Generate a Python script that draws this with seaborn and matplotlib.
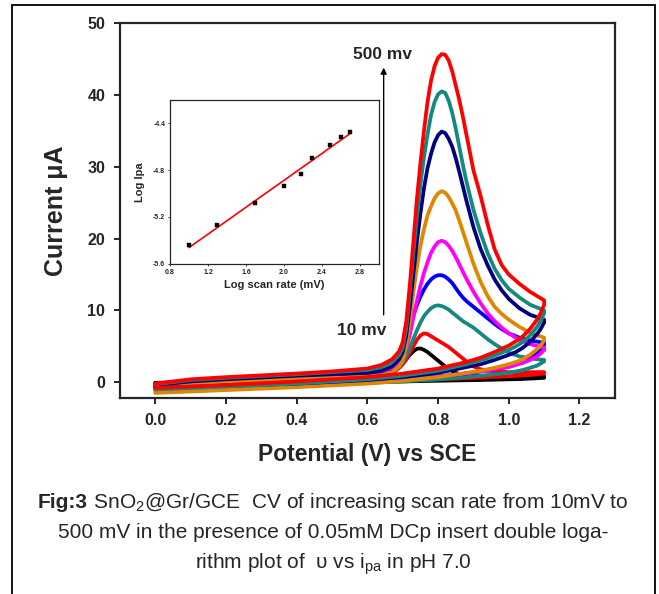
import pandas as pd
import matplotlib
matplotlib.use("Agg")
import matplotlib.pyplot as plt
from matplotlib.patches import Rectangle
import seaborn as sns

# potentiel balayé (V vs SCE) : aller puis retour
E_fwd = [0.0, 0.1, 0.2, 0.3, 0.4, 0.5, 0.6, 0.64, 0.67, 0.69,
         0.70, 0.71, 0.72, 0.73, 0.74, 0.75, 0.76, 0.77, 0.78, 0.79,
         0.80, 0.81, 0.82, 0.83, 0.84, 0.85, 0.86, 0.87, 0.88, 0.90,
         0.92, 0.94, 0.96, 0.98, 1.0, 1.03, 1.06, 1.1]
E_rev = [1.1, 1.09, 1.08, 1.06, 1.04, 1.02, 1.0, 0.96, 0.92, 0.88,
         0.8, 0.7, 0.6, 0.4, 0.2, 0.0]

# courant (µA), balayage aller
i_fwd_10 = [-0.1, 0.05, 0.2, 0.3, 0.4, 0.5, 0.6, 0.8, 1.3, 2.1,
            2.6, 3.2, 3.8, 4.3, 4.65, 4.7, 4.5, 4.2, 3.8, 3.4,
            3.0, 2.6, 2.2, 1.85, 1.55, 1.3, 1.15, 1.05, 1.0, 0.9,
            0.85, 0.8, 0.8, 0.8, 0.8, 0.8, 0.8, 0.8]
i_fwd_20 = [-0.2, 0.0, 0.2, 0.35, 0.5, 0.6, 0.7, 0.9, 1.3, 2.0,
            2.5, 3.2, 4.1, 5.0, 5.9, 6.5, 6.8, 6.7, 6.4, 6.1,
            5.8, 5.5, 5.2, 4.9, 4.5, 4.1, 3.7, 3.3, 2.9, 2.2,
            1.8, 1.6, 1.5, 1.45, 1.4, 1.4, 1.4, 1.4]
i_fwd_50 = [-0.5, -0.1, 0.2, 0.4, 0.6, 0.75, 0.9, 1.1, 1.5, 2.2,
            2.8, 3.7, 4.8, 6.0, 7.2, 8.3, 9.2, 9.8, 10.3, 10.6,
            10.7, 10.6, 10.4, 10.1, 9.7, 9.3, 8.9, 8.5, 8.2, 7.6,
            6.8, 6.0, 5.3, 4.7, 4.1, 3.6, 3.3, 3.1]
i_fwd_100 = [-0.4, 0.0, 0.3, 0.55, 0.8, 0.95, 1.1, 1.3, 1.8, 3.0,
             4.2, 5.8, 7.6, 9.3, 10.7, 11.9, 12.9, 13.7, 14.3, 14.7,
             14.9, 14.9, 14.7, 14.3, 13.8, 13.1, 12.4, 11.8, 11.3, 10.5,
             9.7, 8.9, 8.1, 7.4, 6.8, 6.2, 5.8, 5.5]
i_fwd_150 = [-0.3, 0.2, 0.5, 0.75, 1.0, 1.2, 1.4, 1.6, 2.0, 2.7,
             3.3, 4.6, 6.6, 9.0, 11.3, 13.4, 15.2, 16.7, 18.0, 18.9,
             19.5, 19.7, 19.5, 19.0, 18.3, 17.4, 16.4, 15.4, 14.4, 12.6,
             11.0, 9.6, 8.5, 7.6, 6.8, 5.9, 5.3, 4.8]
i_fwd_200 = [-0.6, -0.2, 0.1, 0.3, 0.5, 0.65, 0.8, 1.0, 1.4, 2.2,
             3.0, 5.0, 8.5, 12.5, 16.0, 19.0, 21.3, 23.2, 24.5, 25.6,
             26.3, 26.6, 26.4, 25.8, 24.9, 23.9, 22.5, 21.0, 19.5, 16.5,
             14.0, 12.0, 10.5, 9.5, 8.7, 7.7, 6.9, 6.2]
i_fwd_300 = [-0.4, 0.1, 0.4, 0.65, 0.9, 1.1, 1.3, 1.6, 2.2, 3.2,
             4.2, 6.5, 10.5, 15.0, 19.5, 23.5, 27.0, 29.8, 31.8, 33.4,
             34.4, 34.9, 34.7, 33.9, 32.8, 31.2, 29.3, 27.3, 25.3, 21.6,
             18.6, 16.3, 14.3, 12.8, 11.6, 10.3, 9.4, 8.7]
i_fwd_400 = [-0.3, 0.3, 0.6, 0.85, 1.1, 1.4, 1.7, 2.1, 2.8, 3.8,
             4.8, 7.5, 12.5, 18.0, 23.0, 27.5, 31.3, 34.5, 37.2, 39.0,
             40.1, 40.5, 40.3, 39.2, 37.5, 35.3, 32.8, 30.3, 28.0, 24.0,
             20.8, 18.0, 15.8, 14.2, 13.0, 11.8, 10.8, 10.0]
i_fwd_500 = [-0.2, 0.4, 0.7, 0.95, 1.2, 1.5, 1.9, 2.4, 3.2, 4.3,
             5.6, 8.5, 13.5, 19.5, 25.5, 30.5, 35.0, 39.0, 42.0, 44.0,
             45.2, 45.7, 45.6, 44.8, 43.3, 41.3, 39.3, 37.0, 34.5, 29.5,
             26.0, 22.0, 18.5, 16.3, 15.0, 13.7, 12.6, 11.4]

# balayage retour
i_rev_10 = [0.6, 0.58, 0.55, 0.5, 0.45, 0.42, 0.4, 0.35, 0.3, 0.27, 0.2, 0.1, 0.0, -0.2, -0.3, -0.3]
i_rev_20 = [1.2, 1.15, 1.1, 1.0, 0.95, 0.9, 0.8, 0.75, 0.65, 0.55, 0.4, 0.2, 0.0, -0.3, -0.5, -0.5]
i_rev_50 = [2.9, 2.6, 2.3, 2.0, 1.7, 1.5, 1.3, 1.1, 0.9, 0.7, 0.4, 0.1, -0.1, -0.5, -0.8, -1.1]
i_rev_100 = [5.2, 4.5, 4.0, 3.3, 2.8, 2.5, 2.2, 1.8, 1.5, 1.2, 0.8, 0.4, 0.2, -0.2, -0.5, -0.7]
i_rev_150 = [4.5, 4.0, 3.6, 3.1, 2.7, 2.4, 2.1, 1.8, 1.5, 1.2, 0.8, 0.4, 0.1, -0.3, -0.5, -0.6]
i_rev_200 = [5.8, 5.1, 4.6, 3.8, 3.2, 2.8, 2.5, 2.0, 1.6, 1.3, 0.7, 0.2, -0.2, -0.7, -1.1, -1.5]
i_rev_300 = [8.3, 7.4, 6.7, 5.6, 4.8, 4.2, 3.8, 3.1, 2.5, 2.1, 1.3, 0.7, 0.3, -0.2, -0.5, -0.8]
i_rev_400 = [9.6, 8.5, 7.7, 6.5, 5.6, 5.0, 4.5, 3.7, 3.0, 2.5, 1.6, 0.9, 0.4, -0.2, -0.6, -1.0]
i_rev_500 = [10.8, 9.6, 8.7, 7.4, 6.4, 5.7, 5.1, 4.2, 3.4, 2.8, 1.9, 1.2, 0.7, 0.1, -0.4, -0.8]

scan_rates = ["10", "20", "50", "100", "150", "200", "300", "400", "500"]
curve_colors = ["#000000", "#ff0000", "#128a80", "#0000ff", "#ff00ff",
                "#e08600", "#000080", "#128a80", "#ff0000"]

# encart : log(vitesse) vs log(Ipa)
log_scan = [1.0, 1.3, 1.7, 2.0, 2.18, 2.3, 2.48, 2.6, 2.7]
log_ipa = [-5.44, -5.27, -5.08, -4.94, -4.83, -4.70, -4.585, -4.52, -4.477]

fwd_all = [i_fwd_10, i_fwd_20, i_fwd_50, i_fwd_100, i_fwd_150,
           i_fwd_200, i_fwd_300, i_fwd_400, i_fwd_500]
rev_all = [i_rev_10, i_rev_20, i_rev_50, i_rev_100, i_rev_150,
           i_rev_200, i_rev_300, i_rev_400, i_rev_500]

rows = []
for rate, fwd, rev in zip(scan_rates, fwd_all, rev_all):
    assert len(fwd) == len(E_fwd) and len(rev) == len(E_rev), rate
    pts = list(zip(E_fwd, fwd)) + list(zip(E_rev, rev)) + [(E_fwd[0], fwd[0])]
    for k, (e, i) in enumerate(pts):
        rows.append({"rate": rate, "step": k, "E": e, "I": i})
df = pd.DataFrame(rows)

sns.set_style("ticks")
plt.rcParams["font.family"] = ["Liberation Sans", "DejaVu Sans"]
plt.rcParams["mathtext.fontset"] = "custom"
plt.rcParams["mathtext.rm"] = "Liberation Sans"
plt.rcParams["mathtext.bf"] = "Liberation Sans:bold"
plt.rcParams["mathtext.it"] = "Liberation Sans:italic"

fig = plt.figure(figsize=(6.59, 5.94), dpi=100)
ax = fig.add_axes([0.182, 0.330, 0.751, 0.631])

sns.lineplot(data=df, x="E", y="I", hue="rate", hue_order=scan_rates,
             palette=dict(zip(scan_rates, curve_colors)), sort=False,
             estimator=None, legend=False, lw=2.7, ax=ax,
             solid_joinstyle="round", solid_capstyle="round")

ax.set_xlim(-0.1, 1.3)
ax.set_ylim(-2.2, 50)
ax.set_xticks([0.0, 0.2, 0.4, 0.6, 0.8, 1.0, 1.2])
ax.set_xticklabels(["0.0", "0.2", "0.4", "0.6", "0.8", "1.0", "1.2"])
ax.set_yticks([0, 10, 20, 30, 40, 50])
for s in ax.spines.values():
    s.set_linewidth(1.6)
ax.tick_params(direction="out", length=4.5, width=1.4, labelsize=11.5, pad=6)
for lab in ax.get_xticklabels() + ax.get_yticklabels():
    lab.set_fontweight("bold")
ax.set_xlabel("Potential (V) vs SCE", fontsize=16.5, fontweight="bold", labelpad=11)
ax.set_ylabel("Current μA", fontsize=18, fontweight="bold", labelpad=14)

ax.annotate("", xy=(0.646, 44.2), xytext=(0.646, 9.0),
            arrowprops=dict(arrowstyle="-|>", color="black", lw=1.0, mutation_scale=9))
ax.text(0.643, 45.7, "500 mv", fontsize=12.5, fontweight="bold", ha="center", va="center")
ax.text(0.584, 7.2, "10 mv", fontsize=12.5, fontweight="bold", ha="center", va="center")

# encart
ins = fig.add_axes([0.258, 0.556, 0.317, 0.276])
sns.regplot(x=log_scan, y=log_ipa, ci=None, scatter=False, ax=ins,
            line_kws=dict(color="red", lw=1.2))
sns.scatterplot(x=log_scan, y=log_ipa, marker="s", s=12, color="black",
                edgecolor="black", ax=ins, zorder=3)
ins.set_xlim(0.8, 3.0)
ins.set_ylim(-5.6, -4.2)
ins.set_xticks([0.8, 1.2, 1.6, 2.0, 2.4, 2.8])
ins.set_xticklabels(["0.8", "1.2", "1.6", "2.0", "2.4", "2.8"])
ins.set_yticks([-5.6, -5.2, -4.8, -4.4])
ins.set_yticklabels(["-5.6", "-5.2", "-4.8", "-4.4"])
for s in ins.spines.values():
    s.set_linewidth(0.9)
ins.tick_params(direction="out", length=1.5, width=0.6, labelsize=5, pad=2)
for lab in ins.get_xticklabels() + ins.get_yticklabels():
    lab.set_fontweight("bold")
ins.set_xlabel("Log scan rate (mV)", fontsize=8, fontweight="bold", labelpad=3)
ins.set_ylabel("Log Ipa", fontsize=8, fontweight="bold", labelpad=6)

# légende de la figure (3 lignes centrées)
W, H = 659.0, 594.0
cap_size = 15
cx = 333.0
r = fig.canvas.get_renderer()
t_bold = fig.text(0, 1 - 508 / H, "Fig:3", fontsize=cap_size, fontweight="bold", va="baseline")
t_rest = fig.text(0, 1 - 508 / H, " SnO$_2$@Gr/GCE  CV of increasing scan rate from 10mV to",
                  fontsize=cap_size, va="baseline")
wb = t_bold.get_window_extent(r).width
wr = t_rest.get_window_extent(r).width
x0 = cx - (wb + wr) / 2
t_bold.set_x(x0 / W)
t_rest.set_x((x0 + wb) / W)
fig.text(cx / W, 1 - 538 / H, "500 mV in the presence of 0.05mM DCp insert double loga-",
         fontsize=cap_size, ha="center", va="baseline")
fig.text(cx / W, 1 - 569 / H, "rithm plot of  υ vs i$_{\\mathrm{pa}}$ in pH 7.0",
         fontsize=cap_size, ha="center", va="baseline")

fig.add_artist(Rectangle((12 / W, -0.02), 643 / W, 1.02 - 5 / H,
                         transform=fig.transFigure, fill=False,
                         edgecolor="black", lw=1.3))

fig.savefig("out.png", dpi=100)
